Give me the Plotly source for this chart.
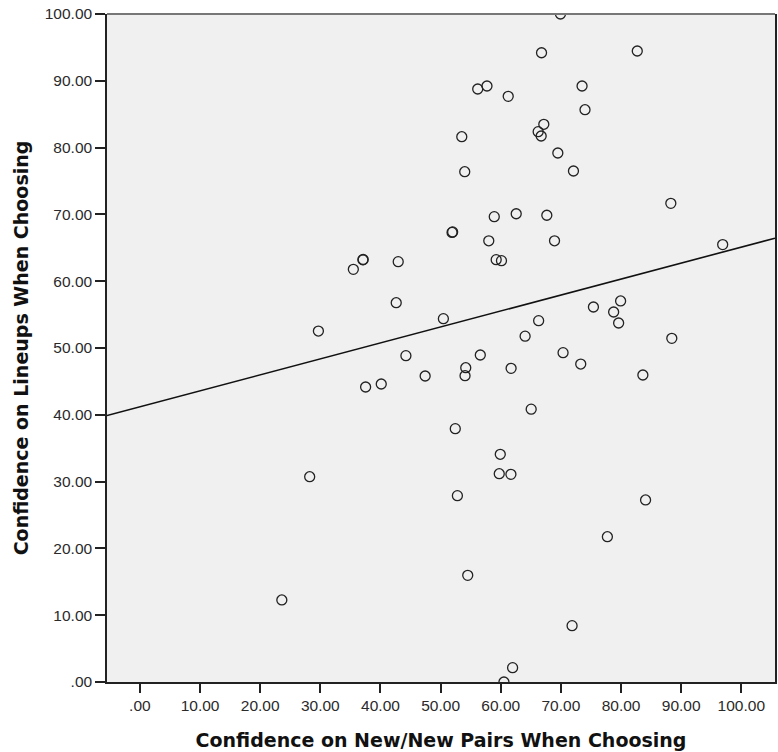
import plotly.graph_objects as go

# Confidence on New/New Pairs When Choosing (x) vs Confidence on Lineups When Choosing (y)
new_new_conf = [
    69.93, 66.78, 82.70, 56.17, 57.71, 61.24, 73.52, 74.01, 67.16, 66.22,
    66.72, 53.52, 54.01, 69.49, 72.09, 88.28, 58.92, 62.57, 67.66, 51.90,
    52.00, 58.01, 68.94, 96.90, 35.49, 37.08, 37.12, 42.95, 59.24, 60.12,
    42.62, 50.46, 29.68, 66.30, 64.05, 75.41, 79.93, 78.77, 79.60, 88.44,
    44.23, 56.60, 70.36, 73.30, 54.18, 54.06, 47.43, 61.72, 37.53, 40.13,
    83.63, 65.06, 52.44, 59.92, 28.23, 59.75, 61.69, 52.79, 84.08, 77.73,
    54.51, 23.60, 71.86, 61.97, 60.53,
]
lineup_conf = [
    100.00, 94.20, 94.46, 88.77, 89.22, 87.68, 89.22, 85.67, 83.49, 82.38,
    81.74, 81.63, 76.39, 79.19, 76.50, 71.66, 69.66, 70.10, 69.87, 67.30,
    67.38, 66.05, 66.05, 65.48, 61.78, 63.20, 63.25, 62.92, 63.22, 63.07,
    56.78, 54.39, 52.54, 54.09, 51.77, 56.14, 57.04, 55.39, 53.74, 51.45,
    48.85, 48.95, 49.30, 47.60, 47.05, 45.85, 45.81, 46.96, 44.16, 44.61,
    45.96, 40.84, 37.92, 34.09, 30.73, 31.18, 31.09, 27.89, 27.25, 21.75,
    15.97, 12.28, 8.43, 2.14, 0.00,
]

tick_values = [0, 10, 20, 30, 40, 50, 60, 70, 80, 90, 100]
tick_labels = [".00", "10.00", "20.00", "30.00", "40.00", "50.00",
               "60.00", "70.00", "80.00", "90.00", "100.00"]

x_range = [-5.47, 105.6]
y_range = [0, 100]

# Fit line (total): y = intercept + slope * x
fit_intercept = 41.2
fit_slope = 0.239
fit_x = list(x_range)
fit_y = [fit_intercept + fit_slope * v for v in fit_x]

fig = go.Figure()
fig.add_trace(go.Scatter(
    x=fit_x, y=fit_y, mode="lines",
    line=dict(color="#111111", width=1.6),
    hoverinfo="skip", showlegend=False,
))
fig.add_trace(go.Scatter(
    x=new_new_conf, y=lineup_conf, mode="markers",
    marker=dict(symbol="circle-open", size=10, color="#222222",
                line=dict(color="#222222", width=1.3)),
    showlegend=False, cliponaxis=True,
))

axis_font = dict(family="Liberation Sans, Arial, sans-serif", size=15.5, color="#2a2a2a")
title_font = dict(family="DejaVu Sans, sans-serif", size=19, color="#111111")

fig.update_layout(
    width=778, height=752,
    margin=dict(l=107, r=1, t=14, b=70),
    paper_bgcolor="white",
    plot_bgcolor="#f0f0f0",
    xaxis=dict(
        range=x_range, tickvals=tick_values, ticktext=tick_labels,
        showgrid=False, zeroline=False,
        showline=True, linecolor="#222222", linewidth=1.5,
        ticks="outside", ticklen=9, tickwidth=1.5, tickcolor="#222222",
        tickfont=axis_font,
        title=dict(text="<b>Confidence on New/New Pairs When Choosing</b>",
                   font=title_font, standoff=20),
    ),
    yaxis=dict(
        range=y_range, tickvals=tick_values, ticktext=tick_labels,
        showgrid=False, zeroline=False,
        showline=True, linecolor="#222222", linewidth=1.5, mirror=True,
        ticks="outside", ticklen=10, tickwidth=1.5, tickcolor="#222222",
        tickfont=axis_font,
        title=dict(text="<b>Confidence on Lineups When Choosing</b>",
                   font=title_font, standoff=11),
    ),
    shapes=[dict(type="line", xref="x domain", yref="y domain",
                 x0=0, x1=1, y0=1, y1=1,
                 line=dict(color="#777777", width=2))],
)

fig.write_html("out.html")
